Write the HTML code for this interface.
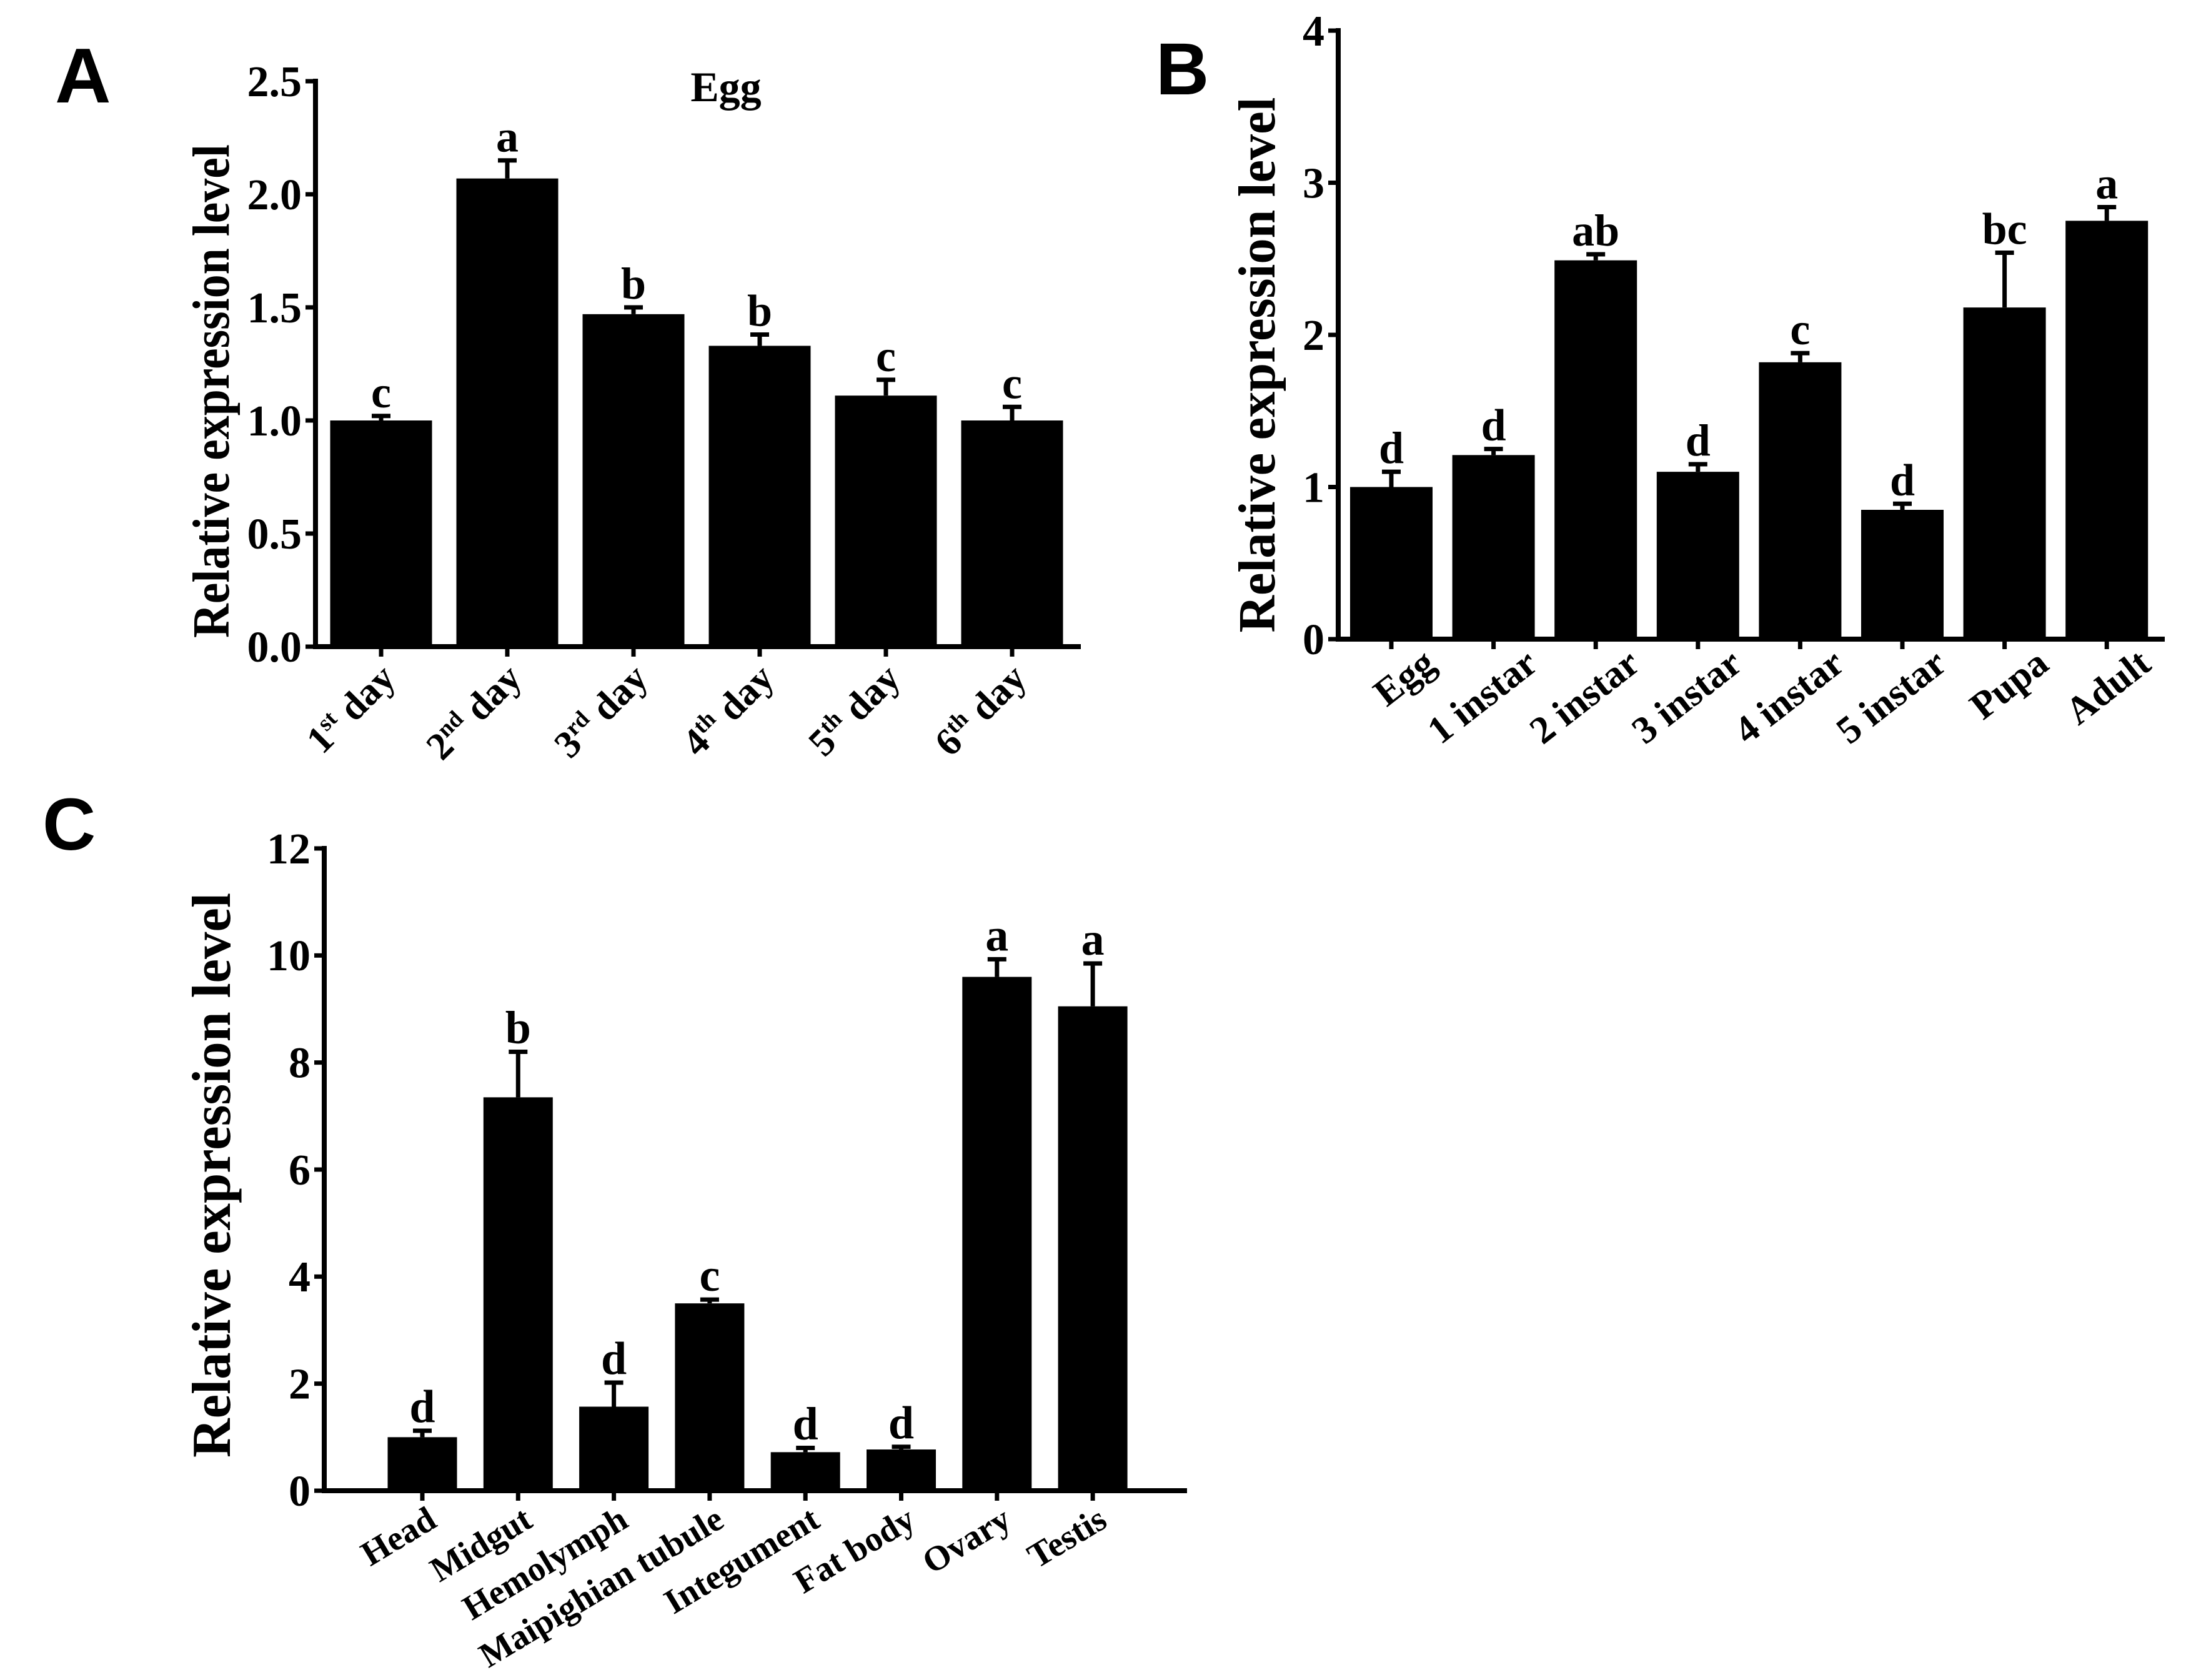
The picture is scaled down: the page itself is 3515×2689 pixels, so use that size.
<!DOCTYPE html>
<html><head><meta charset="utf-8"><style>
html,body{margin:0;padding:0;background:#fff}
svg{display:block}
text{font-family:"Liberation Serif",serif;font-weight:bold;fill:#000}
.pl{font-family:"Liberation Sans",sans-serif;font-weight:bold}
</style></head><body>
<svg id="fig" width="3515" height="2689" viewBox="0 0 3515 2689" xmlns="http://www.w3.org/2000/svg"></svg>
<script>
// Panel A data
const catsA = ["1|st| day","2|nd| day","3|rd| day","4|th| day","5|th| day","6|th| day"];
const valsA = [1.0, 2.07, 1.47, 1.33, 1.11, 1.0];
const errA = [0.02, 0.08, 0.03, 0.05, 0.07, 0.06];
const sigA = ["c","a","b","b","c","c"];
const ticksA = ["0.0","0.5","1.0","1.5","2.0","2.5"];
// Panel B data
const catsB = ["Egg","1 instar","2 instar","3 instar","4 instar","5 instar","Pupa","Adult"];
const valsB = [1.0, 1.21, 2.49, 1.1, 1.82, 0.85, 2.18, 2.75];
const errB = [0.1, 0.04, 0.04, 0.05, 0.06, 0.04, 0.36, 0.09];
const sigB = ["d","d","ab","d","c","d","bc","a"];
const ticksB = ["0","1","2","3","4"];
// Panel C data
const catsC = ["Head","Midgut","Hemolymph","Maipighian tubule","Integument","Fat body","Ovary","Testis"];
const valsC = [1.0, 7.35, 1.57, 3.5, 0.72, 0.77, 9.6, 9.05];
const errC = [0.12, 0.85, 0.45, 0.07, 0.08, 0.05, 0.33, 0.8];
const sigC = ["d","b","d","c","d","d","a","a"];
const ticksC = ["0","2","4","6","8","10","12"];

const NS="http://www.w3.org/2000/svg";
const svg=document.getElementById('fig');
function mk(tag,attrs,parent){const e=document.createElementNS(NS,tag);for(const k in attrs)e.setAttribute(k,attrs[k]);(parent||svg).appendChild(e);return e;}

function panel(o){
  const g=mk('g',{});
  
  
  const ymax=+o.ticks[o.ticks.length-1];
  const y=v=>o.y0-(v/ymax)*(o.y0-o.yTop);
  const x=i=>o.x1+o.gap*i;
  o.vals.forEach((v,i)=>{
    const b=mk('rect',{x:x(i)-o.bw/2,y:y(v),width:o.bw,height:o.y0-y(v),fill:'#000'},g);
    
    
    const top=y(v+o.errs[i]);
    const e=mk('path',{d:`M${x(i)},${y(v)}V${top}M${x(i)-15},${top}H${x(i)+15}`,stroke:'#000','stroke-width':7,fill:'none'},g);
    
    
    const s=mk('text',{x:x(i),y:top-14,'text-anchor':'middle','font-size':o.sigSize},g);
    s.textContent=o.sig[i];
    
    
    mk('line',{x1:x(i),x2:x(i),y1:o.y0,y2:o.y0+16,stroke:'#000','stroke-width':7},g);
    const lx=x(i)+o.ldx, ly=o.y0+o.ldy;
    const t=mk('text',{x:lx,y:ly,'text-anchor':'end','font-size':o.lsize,transform:`rotate(${o.angle} ${lx} ${ly})`},g);
    
    
    const parts=o.cats[i].split('|');
    if(parts.length===3){
      t.appendChild(document.createTextNode(parts[0]));
      const sp=mk('tspan',{'font-size':o.lsize*0.6,dy:-o.lsize*0.35},t);sp.textContent=parts[1];
      const r=mk('tspan',{dy:o.lsize*0.35},t);r.textContent=parts[2];
    } else t.textContent=o.cats[i];
  });
  const ax=mk('path',{d:`M${o.ax},${o.yTop-4}V${o.y0}H${o.xEnd}`,stroke:'#000','stroke-width':8,fill:'none'},g);
  
  
  o.ticks.forEach(tk=>{
    const ty=y(+tk);
    mk('line',{x1:o.ax-16,x2:o.ax,y1:ty,y2:ty,stroke:'#000','stroke-width':7},g);
    const t=mk('text',{x:o.ax-22,y:ty+o.tsize*0.34,'text-anchor':'end','font-size':o.tsize},g);
    t.textContent=tk;
    
    
  });
  const yt=mk('text',{x:0,y:0,'text-anchor':'middle','font-size':o.ytSize,textLength:o.ytLen,lengthAdjust:'spacingAndGlyphs',transform:`translate(${o.ytX},${o.ytY}) rotate(-90)`},g);
  yt.textContent='Relative expression level';
  
  
  const pl=mk('text',{x:o.plX,y:o.plY,'font-size':o.plSize,'class':'pl'},g);
  pl.textContent=o.letter;
  
  
  return g;
}

panel({name:'panel-a',cats:catsA,vals:valsA,errs:errA,sig:sigA,ticks:ticksA,
  ax:505,y0:1035,yTop:130,xEnd:1730,x1:610,gap:202,bw:163,
  sigSize:72,lsize:62,angle:-45,ldx:26,ldy:54,tsize:70,
  ytSize:84,ytLen:790,ytX:366,ytY:626,letter:'A',plX:88,plY:164,plSize:124});
const egg=mk('text',{x:1162,y:162,'text-anchor':'middle','font-size':68});
egg.textContent='Egg';



panel({name:'panel-b',cats:catsB,vals:valsB,errs:errB,sig:sigB,ticks:ticksB,
  ax:2142,y0:1023,yTop:49,xEnd:3465,x1:2227,gap:163.6,bw:132,
  sigSize:72,lsize:62,angle:-38,ldx:74,ldy:46,tsize:70,
  ytSize:84,ytLen:857,ytX:2040,ytY:584,letter:'B',plX:1850,plY:151,plSize:118});

panel({name:'panel-c',cats:catsC,vals:valsC,errs:errC,sig:sigC,ticks:ticksC,
  ax:519,y0:2386,yTop:1358,xEnd:1900,x1:676,gap:153.3,bw:111,
  sigSize:74,lsize:56,angle:-31,ldx:26,ldy:56,tsize:70,
  ytSize:88,ytLen:904,ytX:368,ytY:1881,letter:'C',plX:68,plY:1360,plSize:118});
</script>
</body></html>
